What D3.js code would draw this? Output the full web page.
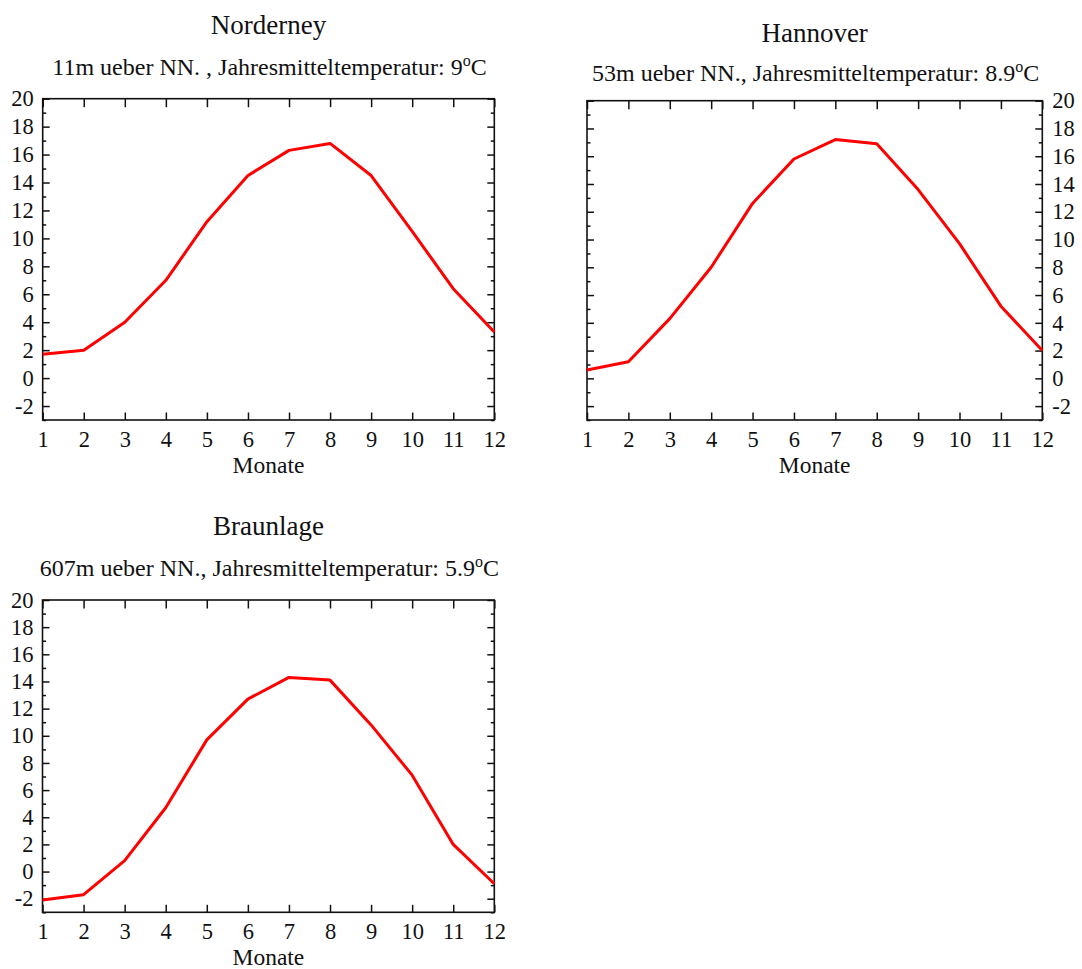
<!DOCTYPE html>
<html>
<head>
<meta charset="utf-8">
<script src="https://cdn.jsdelivr.net/npm/d3@7"></script>
<style>
  html, body { margin: 0; padding: 0; background: #fff; }
  svg { display: block; }
  text { font-family: "Liberation Serif", "Times New Roman", serif; fill: #111; }
</style>
</head>
<body>
<svg id="chart" width="1082" height="969"></svg>
<script>
// ---- data ----
const months = [1, 2, 3, 4, 5, 6, 7, 8, 9, 10, 11, 12];
const norderney = [1.7, 2.0, 4.0, 7.0, 11.2, 14.5, 16.3, 16.8, 14.5, 10.5, 6.4, 3.3];
const hannover  = [0.6, 1.2, 4.3, 8.0, 12.6, 15.8, 17.2, 16.9, 13.6, 9.7, 5.2, 2.0];
const braunlage = [-2.1, -1.7, 0.8, 4.7, 9.7, 12.7, 14.3, 14.1, 10.8, 7.1, 2.0, -0.9];
const yMajorTicks = [-2, 0, 2, 4, 6, 8, 10, 12, 14, 16, 18, 20];
const yMinorTicks = [-3, -1, 1, 3, 5, 7, 9, 11, 13, 15, 17, 19];
const xTicks = months;
const yDomain = [-3, 20];
const titles = ["Norderney", "Hannover", "Braunlage"];
const heights = ["11m ueber NN. , Jahresmitteltemperatur: 9", "53m ueber NN., Jahresmitteltemperatur: 8.9", "607m ueber NN., Jahresmitteltemperatur: 5.9"];
const xLabel = "Monate";

// ---- layout ----
const panels = [
  { values: norderney, title: titles[0], sub: heights[0], left: 42.7, right: 494.3, top: 98.7, bottom: 420, titleY: 34, subY: 75, labelsRight: false },
  { values: hannover,  title: titles[1], sub: heights[1], left: 587, right: 1042.3, top: 100.7, bottom: 420, titleY: 42, subY: 81, labelsRight: true },
  { values: braunlage, title: titles[2], sub: heights[2], left: 42.5, right: 494.3, top: 600, bottom: 912.3, titleY: 535, subY: 576, labelsRight: false }
];

const fmt = d => String(d); // plain hyphen-minus like the original
const svg = d3.select("#chart");

panels.forEach(p => {
  const g = svg.append("g");
  const x = d3.scaleLinear().domain([1, 12]).range([p.left, p.right]);
  const y = d3.scaleLinear().domain(yDomain).range([p.bottom, p.top]);
  const cx = (p.left + p.right) / 2;

  // titles
  g.append("text").attr("x", cx).attr("y", p.titleY).attr("text-anchor", "middle")
    .style("font-size", "27px").text(p.title);
  const st = g.append("text").attr("x", cx + 1).attr("y", p.subY).attr("text-anchor", "middle")
    .style("font-size", "24px");
  st.append("tspan").text(p.sub);
  st.append("tspan").attr("dy", -9).style("font-size", "16px").text("o");
  st.append("tspan").attr("dy", 9).text("C");

  // bottom axis (ticks inward, labels)
  const axB = d3.axisBottom(x).tickValues(xTicks).tickFormat(fmt).tickSize(-7.5).tickPadding(9);
  const gb = g.append("g").attr("transform", `translate(0,${p.bottom})`).call(axB);
  // top axis (ticks inward, no labels)
  const axT = d3.axisTop(x).tickValues(xTicks).tickFormat("").tickSize(-8.5);
  const gt = g.append("g").attr("transform", `translate(0,${p.top})`).call(axT);

  // left / right major + minor ticks
  const axL = d3.axisLeft(y).tickValues(yMajorTicks).tickSize(-7).tickPadding(9)
    .tickFormat(p.labelsRight ? "" : fmt);
  const axLm = d3.axisLeft(y).tickValues(yMinorTicks).tickSize(-3.5).tickFormat("");
  const axR = d3.axisRight(y).tickValues(yMajorTicks).tickSize(-7).tickPadding(10)
    .tickFormat(p.labelsRight ? fmt : "");
  const axRm = d3.axisRight(y).tickValues(yMinorTicks).tickSize(-3.5).tickFormat("");
  const gl = g.append("g").attr("transform", `translate(${p.left},0)`).call(axL);
  const glm = g.append("g").attr("transform", `translate(${p.left},0)`).call(axLm);
  const gr = g.append("g").attr("transform", `translate(${p.right},0)`).call(axR);
  const grm = g.append("g").attr("transform", `translate(${p.right},0)`).call(axRm);

  [gb, gt, gl, glm, gr, grm].forEach(a => {
    a.select(".domain").remove();
    a.selectAll(".tick line").attr("stroke", "#111").attr("stroke-width", 1.5);
    a.selectAll(".tick text").style("font-family", '"Liberation Serif", "Times New Roman", serif')
      .style("font-size", "22.5px").attr("fill", "#111");
  });
  gb.selectAll(".tick text").attr("dy", "0.71em").attr("y", 11);

  // frame
  g.append("rect").attr("x", p.left).attr("y", p.top)
    .attr("width", p.right - p.left).attr("height", p.bottom - p.top)
    .attr("fill", "none").attr("stroke", "#111").attr("stroke-width", 1.6);

  // x label
  g.append("text").attr("x", cx).attr("y", p.bottom + 53).attr("text-anchor", "middle")
    .style("font-size", "23.5px").text(xLabel);

  // line
  const line = d3.line().x((d, i) => x(months[i])).y(d => y(d));
  g.append("path").datum(p.values).attr("d", line)
    .attr("fill", "none").attr("stroke", "#ff0000").attr("stroke-width", 3)
    .attr("stroke-linejoin", "round");
});
</script>
</body>
</html>
